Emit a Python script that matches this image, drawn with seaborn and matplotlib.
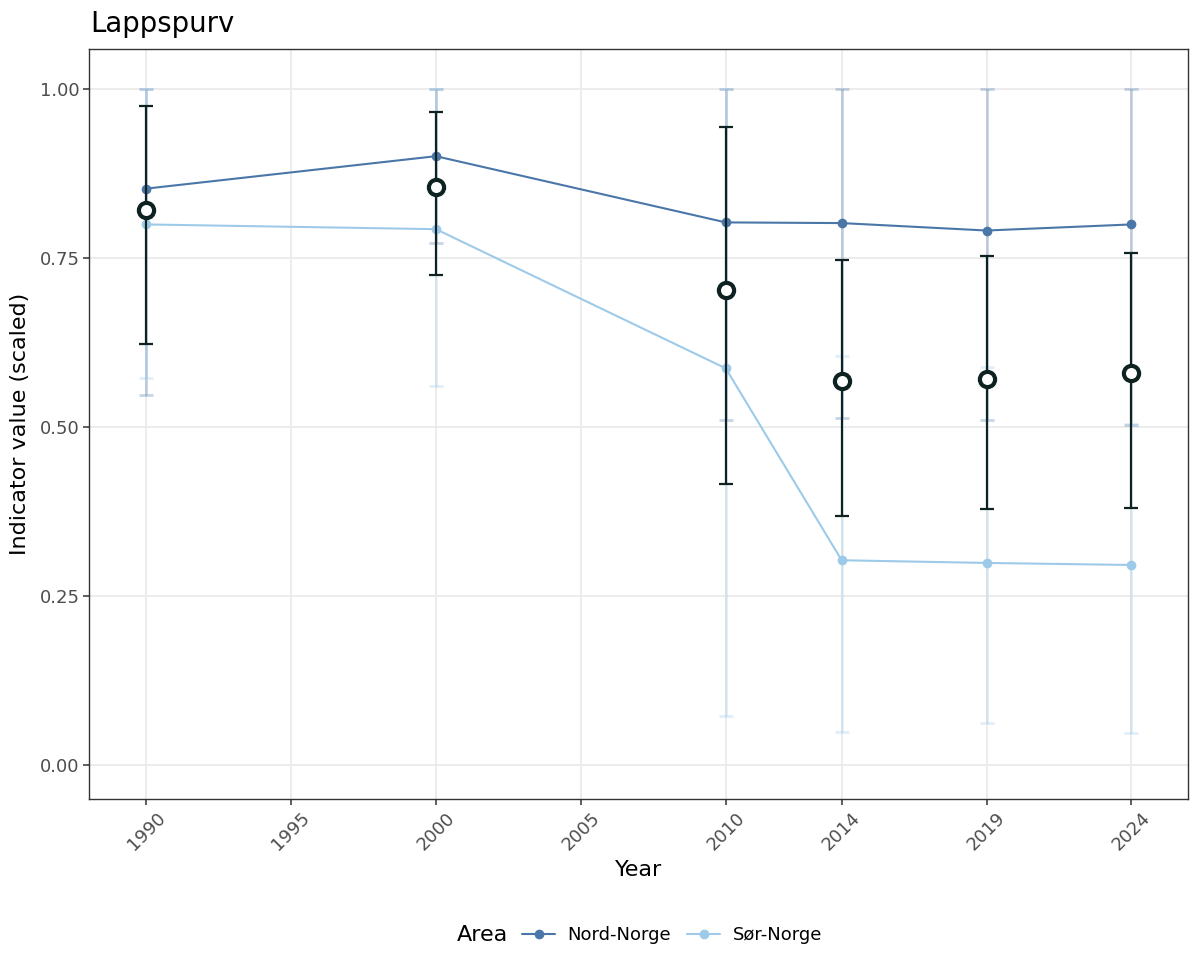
import matplotlib
matplotlib.use("Agg")
import matplotlib.pyplot as plt
from matplotlib.lines import Line2D
import numpy as np
import pandas as pd
import seaborn as sns

# ---- data ----
years = [1990, 2000, 2010, 2014, 2019, 2024]
areas = ["Nord-Norge", "Sør-Norge"]
nord = [0.853, 0.901, 0.803, 0.802, 0.791, 0.800]
nord_lo = [0.548, 0.772, 0.510, 0.513, 0.510, 0.503]
nord_hi = [1.000, 1.000, 1.000, 1.000, 1.000, 1.000]
sor = [0.800, 0.793, 0.587, 0.303, 0.299, 0.296]
sor_lo = [0.573, 0.561, 0.072, 0.049, 0.062, 0.047]
sor_hi = [1.000, 1.000, 1.000, 0.605, 0.589, 0.505]
total = [0.821, 0.855, 0.703, 0.568, 0.571, 0.580]
total_lo = [0.623, 0.725, 0.416, 0.368, 0.379, 0.380]
total_hi = [0.976, 0.966, 0.944, 0.747, 0.753, 0.757]
x_ticks = [1990, 1995, 2000, 2005, 2010, 2014, 2019, 2024]
y_ticks = [0.00, 0.25, 0.50, 0.75, 1.00]
y_ticklabels = ["0.00", "0.25", "0.50", "0.75", "1.00"]

palette = {"Nord-Norge": "#4a76a8", "Sør-Norge": "#9ecae9"}
total_color = "#0e2321"

df = pd.DataFrame({
    "Year": years * 2,
    "value": nord + sor,
    "lo": nord_lo + sor_lo,
    "hi": nord_hi + sor_hi,
    "Area": [areas[0]] * len(years) + [areas[1]] * len(years),
})

sns.set_theme(style="white")
plt.rcParams["font.family"] = ["DejaVu Sans"]

fig = plt.figure(figsize=(12, 9.75), dpi=100)
ax = fig.add_axes([89.3 / 1200, 1 - 799.3 / 975, (1188.3 - 89.3) / 1200, (799.3 - 49.3) / 975])

# grid
ax.set_axisbelow(True)
ax.grid(True, color="#EBEBEB", linewidth=1.3)

# faint region error bars
for area in areas:
    sub = df[df["Area"] == area]
    ax.errorbar(sub["Year"], sub["value"],
                yerr=[sub["value"] - sub["lo"], sub["hi"] - sub["value"]],
                fmt="none", ecolor=palette[area], alpha=0.3,
                elinewidth=2.0, capsize=5.0, capthick=2.0, zorder=2)

# region lines and points
sns.lineplot(data=df, x="Year", y="value", hue="Area", palette=palette,
             marker="o", markersize=7, markeredgewidth=0, linewidth=1.5,
             legend=False, ax=ax, zorder=3)

# total
tot = np.array(total)
ax.errorbar(years, tot, yerr=[tot - np.array(total_lo), np.array(total_hi) - tot],
            fmt="none", ecolor=total_color, elinewidth=1.6, capsize=5.0,
            capthick=1.6, zorder=4)
sns.scatterplot(x=years, y=total, ax=ax, s=120, facecolor="white",
                edgecolor=total_color, linewidth=3.0, zorder=5, legend=False)

ax.set_xlim(1988.04, 2025.96)
ax.set_ylim(-0.0508, 1.0592)
ax.set_xticks(x_ticks)
ax.set_xticklabels([str(t) for t in x_ticks], rotation=45)
ax.set_yticks(y_ticks)
ax.set_yticklabels(y_ticklabels)
ax.tick_params(axis="both", which="major", length=4, width=1.1, color="#333333",
               labelsize=13, labelcolor="#4D4D4D", bottom=True, left=True, pad=3)
ax.set_xlabel("")
ax.set_ylabel("")
for sp in ax.spines.values():
    sp.set_color("#333333")
    sp.set_linewidth(1.0)

# titles
fig.text(90 / 1200, 1 - 31.5 / 975, "Lappspurv", fontsize=19.8, ha="left",
         va="baseline", color="black")
fig.text(639 / 1200, 1 - 870 / 975, "Year", fontsize=16, ha="center",
         va="center", color="black")
fig.text(20 / 1200, 1 - 424 / 975, "Indicator value (scaled)", fontsize=16,
         ha="center", va="center", rotation=90, color="black")

# legend
fig.text(482 / 1200, 1 - 935 / 975, "Area", fontsize=16, ha="center",
         va="center", color="black")
handles = [Line2D([0], [0], color=palette[a], marker="o", markersize=7,
                  markeredgewidth=0, linewidth=1.5) for a in areas]
leg = fig.legend(handles, areas, loc="center", bbox_to_anchor=(672 / 1200, 1 - 935 / 975),
                 ncol=2, frameon=False, fontsize=13, handlelength=1.83,
                 handletextpad=0.67, columnspacing=0.9)
for t in leg.get_texts():
    t.set_color("black")

fig.savefig("out.png", dpi=100)
